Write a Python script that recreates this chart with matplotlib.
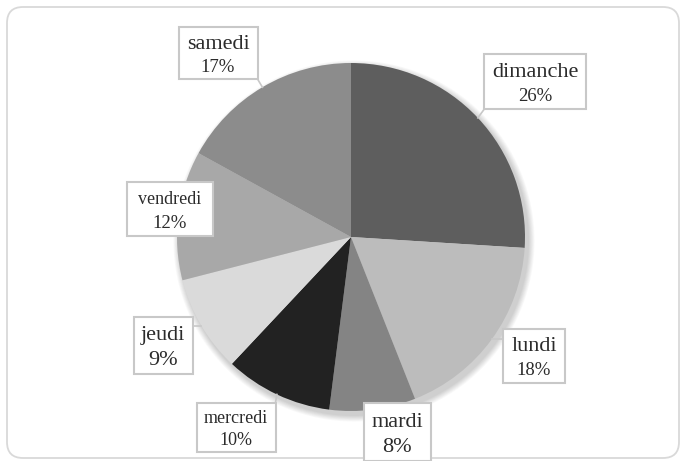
import numpy as np
import matplotlib.pyplot as plt
from matplotlib.patches import FancyBboxPatch, Rectangle, Circle

plt.rcParams['font.family'] = ['Liberation Serif', 'DejaVu Serif']

days = ['dimanche', 'lundi', 'mardi', 'mercredi', 'jeudi', 'vendredi', 'samedi']
shares = [26, 18, 8, 10, 9, 12, 17]
colors = ['#5e5e5e', '#bcbcbc', '#848484', '#222222', '#dadada', '#a8a8a8', '#8c8c8c']

# label box layout in pixels (center x, center y from bottom, width, height)
boxes = {
    'dimanche': (535, 379, 102, 55),
    'lundi': (534, 105, 62, 54),
    'mardi': (397, 29, 67, 58),
    'mercredi': (236, 34, 79, 49),
    'jeudi': (163, 116, 59, 57),
    'vendredi': (170, 252, 86, 54),
    'samedi': (218, 408, 79, 52),
}
sizes = {
    'dimanche': (16, 13.5), 'lundi': (16, 13.5), 'mardi': (16, 16),
    'mercredi': (13, 13), 'jeudi': (16, 16), 'vendredi': (13, 13.5),
    'samedi': (16, 13.5),
}

W, H = 686, 461
fig = plt.figure(figsize=(W / 100, H / 100), dpi=100)
ax = fig.add_axes([0, 0, 1, 1])

# outer frame
frame = FancyBboxPatch((7, 3), 672, 451, boxstyle='round,pad=0,rounding_size=16',
                       fc='white', ec='#d9d9d9', lw=1.3, zorder=0)
ax.add_patch(frame)

cx, cy, r = 351, 224, 174

# soft shadow
for k in range(8):
    ax.add_patch(Circle((cx + 3, cy - 4), r + 1 + k * 0.8, fc='black', ec='none',
                        alpha=0.025, zorder=1))

wedges, _ = ax.pie(shares, colors=colors, startangle=90, counterclock=False,
                   center=(cx, cy), radius=r, frame=True,
                   wedgeprops=dict(linewidth=0, zorder=2))
ax.set_xlim(0, W)
ax.set_ylim(0, H)
ax.axis('off')

for w, day, pct in zip(wedges, days, shares):
    ang = np.deg2rad((w.theta1 + w.theta2) / 2)
    px, py = cx + r * np.cos(ang), cy + r * np.sin(ang)
    bx, by, bw, bh = boxes[day]
    # leader line from box edge to the slice edge
    ex = np.clip(px, bx - bw / 2, bx + bw / 2)
    ey = np.clip(py, by - bh / 2, by + bh / 2)
    ax.plot([ex, px], [ey, py], color='#c8c8c8', lw=1.2, zorder=3)
    ax.add_patch(Rectangle((bx - bw / 2, by - bh / 2), bw, bh, fc='white',
                           ec='#c8c8c8', lw=1.5, zorder=4))
    s1, s2 = sizes[day]
    ax.text(bx, by + bh * 0.17, day, ha='center', va='center', fontsize=s1,
            color='#2b2b2b', zorder=5)
    ax.text(bx, by - bh * 0.27, f'{pct}%', ha='center', va='center', fontsize=s2,
            color='#2b2b2b', zorder=5)

fig.savefig('out.png', dpi=100)
